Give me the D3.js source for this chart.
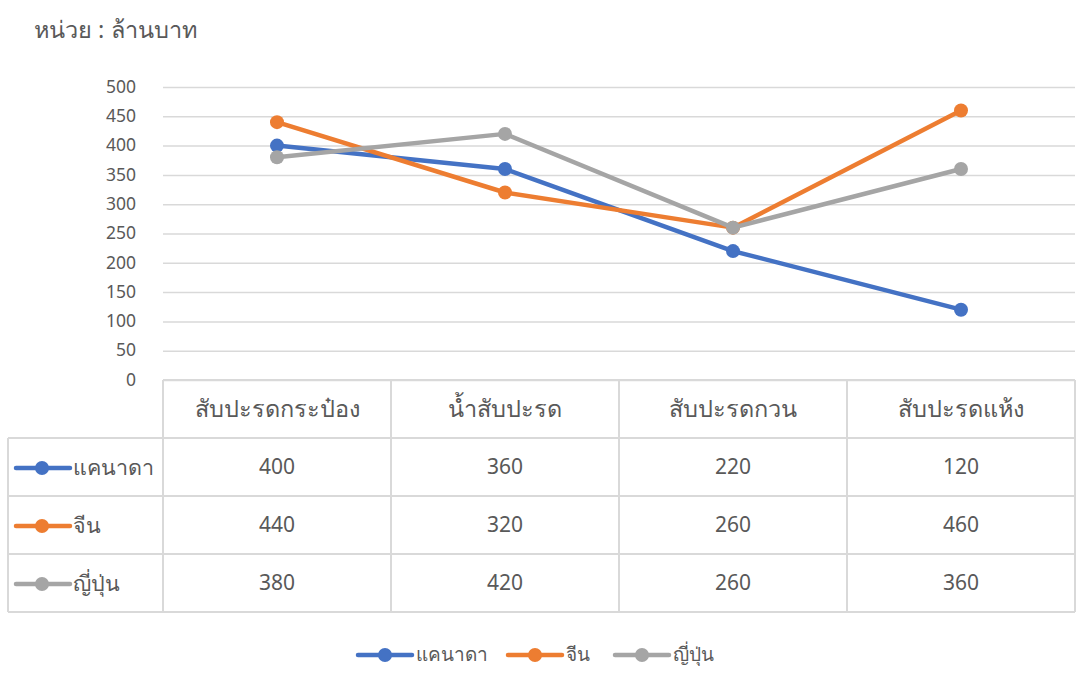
<!DOCTYPE html>
<html>
  <head>
    <meta charset="utf-8">
    <script src="https://d3js.org/d3.v7.min.js"></script>
    <style>
      body { margin: 0; background: #fff; }
      text { font-family: "Noto Sans", "DejaVu Sans", sans-serif; fill: #595959; }
    </style>
  </head>
  <body>
    <script>
      var width = 1081;
      var height = 686;
      var margin = {top: 87, left: 163, right: 6, bottom: 306};

      var categories = ["สับปะรดกระป๋อง", "น้ำสับปะรด", "สับปะรดกวน", "สับปะรดแห้ง"];
      var seriesNames = ["แคนาดา", "จีน", "ญี่ปุ่น"];
      var canada = [400, 360, 220, 120];
      var china = [440, 320, 260, 460];
      var japan = [380, 420, 260, 360];
      var colors = ["#4472c4", "#ed7d31", "#a5a5a5"];
      var yTicks = [0, 50, 100, 150, 200, 250, 300, 350, 400, 450, 500];

      var series = [canada, china, japan].map(function(v, i) {
        return {name: seriesNames[i], values: v, color: colors[i]};
      });

      var svg = d3.select("body")
        .append("svg")
        .attr("width", width)
        .attr("height", height);

      var plotBottom = 380;

      var xScale = d3.scaleBand()
        .domain(categories)
        .range([margin.left, width - margin.right]);

      var yScale = d3.scaleLinear()
        .domain([0, 500])
        .range([plotBottom, margin.top]);

      // title
      svg.append("text")
        .attr("x", 34)
        .attr("y", 38)
        .style("font-size", "23.5px")
        .text("หน่วย : ล้านบาท");

      // gridlines
      svg.append("g")
        .attr("transform", `translate(${margin.left},0)`)
        .call(d3.axisLeft(yScale).tickValues(yTicks).tickSize(-(width - margin.right - margin.left)).tickFormat(""))
        .call(function(g) { g.select(".domain").remove(); })
        .selectAll("line")
        .attr("stroke", "#d9d9d9")
        .attr("stroke-width", 1.5);

      // y labels
      svg.append("g")
        .selectAll("text")
        .data(yTicks)
        .enter()
        .append("text")
        .attr("x", 136)
        .attr("y", function(d) { return yScale(d); })
        .attr("dy", "0.33em")
        .attr("text-anchor", "end")
        .style("font-size", "17.5px")
        .text(function(d) { return d; });

      // data table
      var rowH = 58;
      var tableLeft = 8;
      var tableTop = plotBottom;
      var grid = svg.append("g").attr("stroke", "#d9d9d9").attr("stroke-width", 2).attr("fill", "none");

      grid.append("line").attr("x1", margin.left).attr("x2", width - margin.right).attr("y1", tableTop).attr("y2", tableTop);
      for (var r = 1; r <= 4; r++) {
        grid.append("line")
          .attr("x1", tableLeft).attr("x2", width - margin.right)
          .attr("y1", tableTop + r * rowH).attr("y2", tableTop + r * rowH);
      }
      grid.append("line").attr("x1", tableLeft).attr("x2", tableLeft).attr("y1", tableTop + rowH).attr("y2", tableTop + 4 * rowH);
      var colEdges = categories.map(function(c) { return xScale(c); }).concat([width - margin.right]);
      colEdges.forEach(function(x) {
        grid.append("line").attr("x1", x).attr("x2", x).attr("y1", tableTop).attr("y2", tableTop + 4 * rowH);
      });

      // header
      svg.append("g").selectAll("text")
        .data(categories)
        .enter()
        .append("text")
        .attr("x", function(d) { return xScale(d) + xScale.bandwidth() / 2; })
        .attr("y", tableTop + rowH / 2)
        .attr("dy", "0.35em")
        .attr("text-anchor", "middle")
        .style("font-size", "23.5px")
        .text(function(d) { return d; });

      // rows
      series.forEach(function(s, i) {
        var cy = tableTop + rowH * (i + 1) + rowH / 2;
        var key = svg.append("g");
        key.append("line")
          .attr("x1", 16).attr("x2", 70).attr("y1", cy + 1).attr("y2", cy + 1)
          .attr("stroke", s.color).attr("stroke-width", 4.5).attr("stroke-linecap", "round");
        key.append("circle").attr("cx", 42).attr("cy", cy + 1).attr("r", 7).attr("fill", s.color);
        key.append("text")
          .attr("x", 73).attr("y", cy).attr("dy", "0.35em")
          .style("font-size", "21.5px")
          .text(s.name);
        svg.append("g").selectAll("text")
          .data(s.values)
          .enter()
          .append("text")
          .attr("x", function(d, j) { return xScale(categories[j]) + xScale.bandwidth() / 2; })
          .attr("y", cy)
          .attr("dy", "0.35em")
          .attr("text-anchor", "middle")
          .style("font-size", "21px")
          .text(function(d) { return d; });
      });

      // lines
      var line = d3.line()
        .x(function(d, j) { return xScale(categories[j]) + xScale.bandwidth() / 2; })
        .y(function(d) { return yScale(d); });

      series.forEach(function(s) {
        svg.append("path")
          .datum(s.values)
          .attr("d", line)
          .attr("fill", "none")
          .attr("stroke", s.color)
          .attr("stroke-width", 4.5)
          .attr("stroke-linejoin", "round");
        svg.append("g").selectAll("circle")
          .data(s.values)
          .enter()
          .append("circle")
          .attr("cx", function(d, j) { return xScale(categories[j]) + xScale.bandwidth() / 2; })
          .attr("cy", function(d) { return yScale(d); })
          .attr("r", 7)
          .attr("fill", s.color);
      });

      // bottom legend
      var legendX = [358, 508, 615];
      series.forEach(function(s, i) {
        var g = svg.append("g").attr("transform", `translate(${legendX[i]},655)`);
        g.append("line").attr("x1", 0).attr("x2", 54).attr("y1", 0).attr("y2", 0)
          .attr("stroke", s.color).attr("stroke-width", 4.5).attr("stroke-linecap", "round");
        g.append("circle").attr("cx", 27).attr("cy", 0).attr("r", 7).attr("fill", s.color);
        g.append("text").attr("x", 58).attr("y", -1).attr("dy", "0.35em")
          .style("font-size", "19px")
          .text(s.name);
      });
    </script>
  </body>
</html>
